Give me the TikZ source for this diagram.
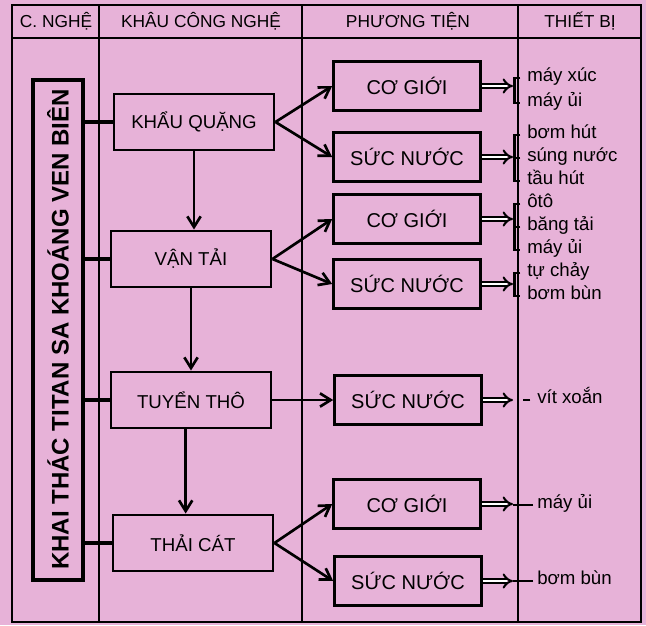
\documentclass[tikz,border=0pt]{standalone}
\usepackage{fontspec}
\setmainfont{Liberation Sans}
\usetikzlibrary{arrows.meta, positioning}
\definecolor{paper}{RGB}{231,178,216}

\begin{document}
\begin{tikzpicture}[x=0.75pt, y=-0.75pt, font=\fontsize{14}{16}\selectfont,
    box/.style={draw, line width=2.2pt, minimum width=110pt, minimum height=37pt, inner sep=0pt,
                font=\fontsize{15}{17}\selectfont},
    stepbox/.style={draw, line width=2.2pt, minimum width=120pt, minimum height=42pt, inner sep=0pt},
    arr/.style={line width=2pt, -{Straight Barb[length=8pt, width=10pt]}},
    dbl/.style={double, double distance=2.2pt, line width=1.5pt, -{Implies}},
    brk/.style={line width=2pt},
    item/.style={anchor=west, inner sep=0pt, text height=7pt, text depth=2pt}]
        \fill[paper] (0,0) rectangle (646,625);
        % table frame and columns
        \draw[line width=0.8pt] (12,5) rectangle (641,622);
        \draw[line width=1.2pt] (12,38) -- (641,38);
        \foreach \x in {99, 302, 518} {
            \draw[line width=0.8pt] (\x,5) -- (\x,622);
        }
        \foreach \x/\t [count=\i] in {56/C. NGHỆ, 201/KHÂU CÔNG NGHỆ, 408/PHƯƠNG TIỆN, 580/THIẾT BỊ} {
            \node[font=\fontsize{13}{15}\selectfont] (hd\i) at (\x,21) {\t};
        }
        % vertical title box
        \node[draw, line width=3pt, rotate=90, minimum width=375pt, minimum height=37.5pt, inner sep=0pt,
              font=\bfseries\fontsize{18}{20}\selectfont] (main) at (58,329.5) {KHAI THÁC TITAN SA KHOÁNG VEN BIÊN};
        % stages
        \node[stepbox] (kq) at (194,122) {KHẨU QUẶNG};
        \node[stepbox] (vt) at (191,259) {VẬN TẢI};
        \node[stepbox] (tt) at (191,400) {TUYỂN THÔ};
        \node[stepbox] (tc) at (193,543) {THẢI CÁT};
        \foreach \s in {kq, vt, tt, tc} {
            \draw[line width=3pt] (\s.west) -- (\s.west -| main.south);
        }
        \draw[arr] (kq.south) -- (kq.south |- vt.north);
        \draw[arr] (vt.south) -- (vt.south |- tt.north);
        \draw[arr] ([xshift=-4pt]tt.south) -- ([xshift=-4pt]tt.south |- tc.north);
        % means
        \node[box] (cg1) at (407,86) {CƠ GIỚI};
        \node[box] (sn1) at (407,157) {SỨC NƯỚC};
        \node[box] (cg2) at (407,219) {CƠ GIỚI};
        \node[box] (sn2) at (407,284) {SỨC NƯỚC};
        \node[box] (sn3) at (408,400) {SỨC NƯỚC};
        \node[box] (cg4) at (407,504) {CƠ GIỚI};
        \node[box] (sn4) at (408,581) {SỨC NƯỚC};
        \foreach \a/\b in {kq/cg1, kq/sn1, vt/cg2, vt/sn2, tt/sn3, tc/cg4, tc/sn4} {
            \draw[arr] (\a.east) -- (\b.west);
        }
        \coordinate (bx) at (513,0);
        \foreach \b in {cg1, sn1, cg2, sn2, sn3, cg4, sn4} {
            \draw[dbl] (\b.east) -- (\b.east -| bx);
        }
        % equipment
        \node[item] (i1) at (527,78) {máy xúc};
        \node[item] (i2) at (527,103) {máy ủi};
        \node[item] (i3) at (527,135) {bơm hút};
        \node[item] (i4) at (527,158) {súng nước};
        \node[item] (i5) at (527,181) {tầu hút};
        \node[item] (i6) at (527,204) {ôtô};
        \node[item] (i7) at (527,227) {băng tải};
        \node[item] (i8) at (527,250) {máy ủi};
        \node[item] (i9) at (527,273) {tự chảy};
        \node[item] (i10) at (527,296) {bơm bùn};
        \node[item] (i11) at (537,400) {vít xoắn};
        \node[item] (i12) at (537,505) {máy ủi};
        \node[item] (i13) at (537,581) {bơm bùn};
        \foreach \a/\b in {i1/i2, i3/i5, i6/i8, i9/i10} {
            \draw[brk] ([xshift=-5pt]\a.west) -- ++(-6,0) |- ([xshift=-5pt]\b.west);
        }
        \foreach \a in {i4, i7} {
            \draw[brk] ([xshift=-5pt]\a.west) -- ++(-6,0);
        }
        \draw[brk] ([xshift=-5pt]i11.west) -- ++(-7,0);
        \draw[brk] ([xshift=-3pt]i12.west) -- (i12.west -| bx);
        \draw[brk] ([xshift=-3pt]i13.west) -- (i13.west -| bx);
\end{tikzpicture}
\end{document}
